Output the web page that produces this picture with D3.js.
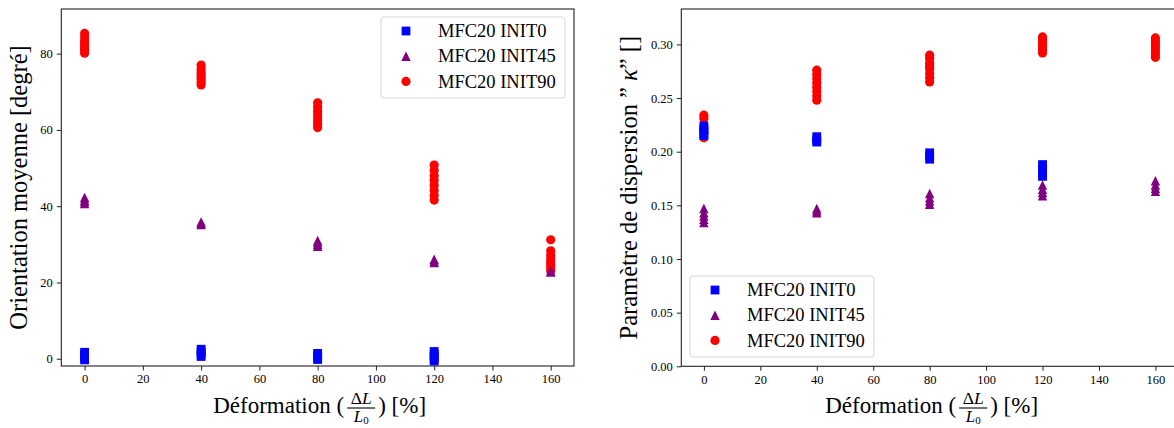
<!DOCTYPE html>
<html><head><meta charset="utf-8">
<script src="https://cdn.jsdelivr.net/npm/d3@7"></script>
<style>
html,body{margin:0;padding:0;background:#fff;}
svg text{font-family:"Liberation Serif","Times New Roman",serif !important;fill:#000;}
</style></head>
<body>
<svg id="c" width="1174" height="428"></svg>
<script>
// ---------- data ----------
const xCats = [0, 40, 80, 120, 160];
const seriesNames = ["MFC20 INIT0", "MFC20 INIT45", "MFC20 INIT90"];
const seriesColors = ["#0000ff", "#800080", "#ff0000"];
const xTicks = [0, 20, 40, 60, 80, 100, 120, 140, 160];
const leftYTicks = [0, 20, 40, 60, 80];
const rightYTicks = [0, 0.05, 0.10, 0.15, 0.20, 0.25, 0.30];

// Left: orientation moyenne [degré]  (one list per deformation level)
const orientInit0 = [
  [-0.3, 0.2, 0.7, 1.2, 1.7],
  [0.6, 1.2, 1.8, 2.5],
  [-0.2, 0.3, 0.8, 1.4],
  [-0.6, 0.0, 0.6, 1.2, 1.9],
  []
];
const orientInit45 = [
  [40.7, 41.2, 41.7, 42.3],
  [35.2, 35.5, 35.9],
  [29.5, 30.0, 30.5, 31.0],
  [25.2, 25.6, 26.1],
  [22.7, 23.0]
];
const orientInit90 = [
  [80.1, 80.8, 81.5, 82.0, 82.6, 83.3, 84.2, 85.3],
  [71.8, 72.5, 73.2, 73.9, 74.5, 75.2, 76.0, 77.0],
  [60.6, 61.5, 62.4, 63.3, 64.2, 65.0, 66.0, 67.1],
  [41.6, 42.8, 44.2, 45.5, 46.8, 48.0, 49.4, 50.8],
  [23.0, 23.8, 24.6, 25.4, 26.2, 27.2, 28.3, 31.2]
];

// Right: paramètre de dispersion kappa
const kappaInit0 = [
  [0.215, 0.218, 0.221, 0.224],
  [0.209, 0.211, 0.214],
  [0.193, 0.196, 0.199],
  [0.177, 0.180, 0.184, 0.188],
  []
];
const kappaInit45 = [
  [0.134, 0.137, 0.140, 0.143, 0.147],
  [0.143, 0.145, 0.147],
  [0.151, 0.154, 0.157, 0.161],
  [0.159, 0.162, 0.165, 0.169],
  [0.163, 0.166, 0.169, 0.173]
];
const kappaInit90 = [
  [0.213, 0.218, 0.222, 0.231, 0.234],
  [0.248, 0.252, 0.256, 0.260, 0.264, 0.268, 0.272, 0.276],
  [0.265, 0.269, 0.273, 0.277, 0.280, 0.283, 0.287, 0.290],
  [0.292, 0.295, 0.298, 0.301, 0.304, 0.307],
  [0.288, 0.291, 0.294, 0.297, 0.300, 0.303, 0.306]
];

// ---------- drawing ----------
const svg = d3.select("#c");
const TICKFONT = 12.5, LABELFONT = 24.5, XLABELFONT = 23, LEGFONT = 18.5;
const SERIF = '"Liberation Serif","Times New Roman",serif';

function markerPath(kind) {
  if (kind === 0) { const s = 8.8; return `M${-s/2},${-s/2}h${s}v${s}h${-s}Z`; }
  if (kind === 1) { const h = 9.4; return `M0,${-h/2}L${h/2},${h/2}L${-h/2},${h/2}Z`; }
  const r = 4.6; return `M${r},0A${r},${r} 0 1,1 ${-r},0A${r},${r} 0 1,1 ${r},0Z`;
}

function flatten(groups) {
  const out = [];
  groups.forEach((g, i) => g.forEach(v => out.push({x: xCats[i], y: v})));
  return out;
}

function drawPanel(opt) {
  const g = svg.append("g").style("font-family", SERIF);
  const x = d3.scaleLinear().domain([-8, 168]).range([opt.x0, opt.x1]);
  const y = d3.scaleLinear().domain(opt.yDomain).range([opt.y1, opt.y0]);

  // points (red first, then purple, then blue)
  [2, 1, 0].forEach(k => {
    g.append("g").selectAll("path").data(flatten(opt.series[k])).join("path")
      .attr("d", markerPath(k))
      .attr("transform", d => `translate(${x(d.x)},${y(d.y)})`)
      .attr("fill", seriesColors[k]);
  });

  // axes
  const xa = g.append("g").attr("transform", `translate(0,${opt.y1})`)
    .call(d3.axisBottom(x).tickValues(xTicks).tickSize(4.5).tickPadding(4).tickFormat(d3.format("d")));
  const ya = g.append("g").attr("transform", `translate(${opt.x0},0)`)
    .call(d3.axisLeft(y).tickValues(opt.yTicks).tickSize(4.5).tickPadding(4).tickFormat(opt.yFormat));
  [xa, ya].forEach(a => {
    a.attr("font-family", null).style("font-family", SERIF);
    a.select(".domain").remove();
    a.selectAll("line").attr("stroke", "#222").attr("stroke-width", 1);
    a.selectAll("text").style("font-family", SERIF).attr("font-size", TICKFONT).attr("fill", "#111");
  });

  // frame
  g.append("rect").attr("x", opt.x0).attr("y", opt.y0)
    .attr("width", opt.x1 - opt.x0).attr("height", opt.y1 - opt.y0)
    .attr("fill", "none").attr("stroke", "#222").attr("stroke-width", 1.1);

  // legend
  const L = opt.legend;
  const lg = g.append("g");
  lg.append("rect").attr("x", L.x).attr("y", L.y).attr("width", L.w).attr("height", L.h)
    .attr("rx", 3).attr("fill", "#fff").attr("fill-opacity", 0.85)
    .attr("stroke", "#d6d6d6").attr("stroke-width", 1);
  seriesNames.forEach((n, k) => {
    const yy = L.y + 14 + k * 25.2;
    lg.append("path").attr("d", markerPath(k)).attr("fill", seriesColors[k])
      .attr("transform", `translate(${L.x + 25},${yy})`);
    lg.append("text").attr("x", L.x + 57).attr("y", yy + 6.2)
      .attr("font-size", LEGFONT).text(n);
  });

  // x label: Déformation (ΔL / L0) [%]
  const cx = (opt.x0 + opt.x1) / 2 + 2, base = 412.5;
  const xl = g.append("g");
  const t1 = xl.append("text").attr("y", base).attr("font-size", XLABELFONT).text("Déformation (");
  const w1 = t1.node().getComputedTextLength();
  const num = xl.append("text").attr("y", base - 8.5).attr("font-size", 17.5).attr("text-anchor", "middle");
  num.append("tspan").text("Δ");
  num.append("tspan").attr("font-style", "italic").text("L");
  const den = xl.append("text").attr("y", base + 9.5).attr("font-size", 17).attr("text-anchor", "middle");
  den.append("tspan").attr("font-style", "italic").text("L");
  den.append("tspan").attr("font-size", 11).attr("dy", 2).text("0");
  const fw = 28;
  const t2 = xl.append("text").attr("y", base).attr("font-size", XLABELFONT).text(") [%]");
  const w2 = t2.node().getComputedTextLength();
  const gap = 3;
  const total = w1 + gap + fw + gap + w2;
  const sx = cx - total / 2;
  t1.attr("x", sx);
  num.attr("x", sx + w1 + gap + fw / 2);
  den.attr("x", sx + w1 + gap + fw / 2);
  xl.append("line").attr("x1", sx + w1 + gap).attr("x2", sx + w1 + gap + fw)
    .attr("y1", base - 4.5).attr("y2", base - 4.5).attr("stroke", "#000").attr("stroke-width", 1.1);
  t2.attr("x", sx + w1 + gap * 2 + fw);

  // y label
  const cy = (opt.y0 + opt.y1) / 2;
  const yl = g.append("text").attr("transform", `translate(${opt.ylabX},${cy}) rotate(-90)`)
    .attr("text-anchor", "middle").attr("font-size", LABELFONT);
  opt.ylabParts.forEach(p => {
    const ts = yl.append("tspan").text(p.t);
    if (p.i) ts.attr("font-style", "italic");
  });
}

drawPanel({
  x0: 61.3, x1: 574, y0: 9, y1: 366,
  yDomain: [-1.9, 91.7], yTicks: leftYTicks, yFormat: d3.format("d"),
  series: [orientInit0, orientInit45, orientInit90],
  legend: {x: 381, y: 17, w: 184, h: 81},
  ylabX: 27,
  ylabParts: [{t: "Orientation moyenne [degré]"}]
});

drawPanel({
  x0: 681.3, x1: 1178, y0: 9, y1: 366.3,
  yDomain: [0, 0.333], yTicks: rightYTicks, yFormat: d3.format(".2f"),
  series: [kappaInit0, kappaInit45, kappaInit90],
  legend: {x: 690, y: 276, w: 184, h: 81},
  ylabX: 637,
  ylabParts: [{t: "Paramètre de dispersion ” "}, {t: "κ", i: true}, {t: "” []"}]
});
</script>
</body></html>
